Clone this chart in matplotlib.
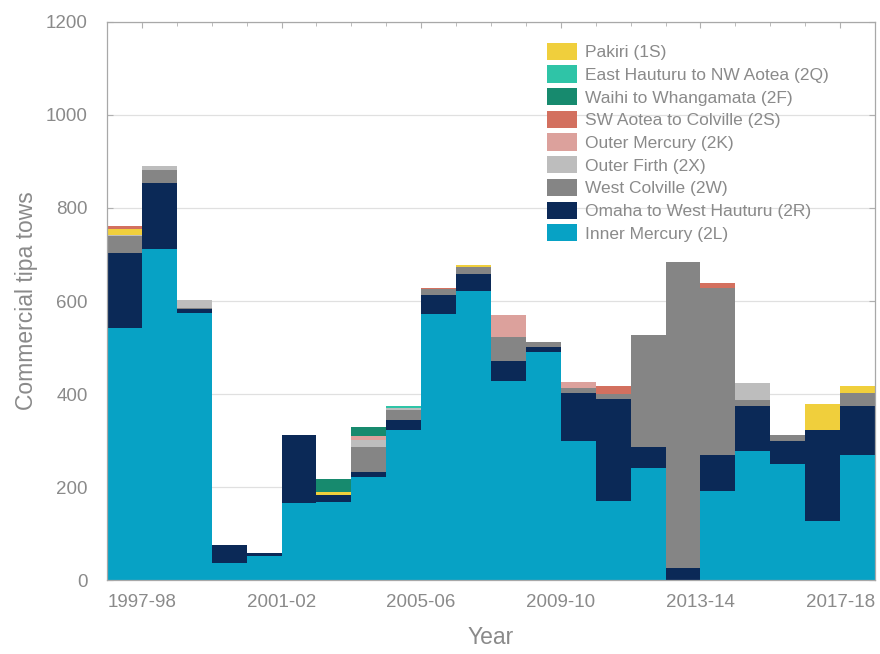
"""
Commercial tipa tows per fishing year, stacked by statistical area.
"""
import numpy as np
import matplotlib
matplotlib.use("Agg")
import matplotlib.pyplot as plt

plt.rcParams['font.family'] = ['Liberation Sans', 'DejaVu Sans']

# Fishing years (one bar each)
years = ['1997-98', '1998-99', '1999-00', '2000-01', '2001-02', '2002-03',
         '2003-04', '2004-05', '2005-06', '2006-07', '2007-08', '2008-09',
         '2009-10', '2010-11', '2011-12', '2012-13', '2013-14', '2014-15',
         '2015-16', '2016-17', '2017-18', '2018-19']

# Tows by area
inner_mercury = [543, 712, 574, 36, 52, 166, 168, 221, 322, 573, 622, 428,
                 490, 300, 169, 241, 0, 192, 278, 249, 127, 268]
omaha = [161, 142, 8, 39, 6, 146, 15, 12, 23, 40, 37, 43,
         12, 103, 220, 46, 25, 77, 96, 49, 196, 106]
west_colville = [36, 28, 4, 0, 0, 0, 0, 54, 20, 12, 15, 51,
                 10, 9, 11, 240, 659, 360, 13, 13, 0, 29]
outer_firth = [3, 9, 16, 0, 0, 0, 0, 14, 5, 0, 0, 0,
               0, 0, 0, 0, 0, 0, 36, 0, 0, 0]
pakiri = [12, 0, 0, 0, 0, 0, 7, 0, 0, 0, 4, 0,
          0, 0, 0, 0, 0, 0, 0, 0, 55, 14]
outer_mercury = [0, 0, 0, 0, 0, 0, 0, 8, 0, 0, 0, 48,
                 0, 14, 0, 0, 0, 0, 0, 0, 0, 0]
sw_aotea = [7, 0, 0, 0, 0, 0, 0, 0, 0, 4, 0, 0,
            0, 0, 18, 0, 0, 9, 0, 0, 0, 0]
waihi = [0, 0, 0, 0, 0, 0, 28, 20, 0, 0, 0, 0,
         0, 0, 0, 0, 0, 0, 0, 0, 0, 0]
east_hauturu = [0, 0, 0, 0, 0, 0, 0, 0, 4, 0, 0, 0,
                0, 0, 0, 0, 0, 0, 0, 0, 0, 0]

# Stack order (bottom to top) as drawn in the figure
series = [
    ('Inner Mercury (2L)', inner_mercury, '#07a2c5'),
    ('Omaha to West Hauturu (2R)', omaha, '#0b2957'),
    ('West Colville (2W)', west_colville, '#858585'),
    ('Outer Firth (2X)', outer_firth, '#bdbdbd'),
    ('Pakiri (1S)', pakiri, '#f0cf3c'),
    ('Outer Mercury (2K)', outer_mercury, '#dca19c'),
    ('SW Aotea to Colville (2S)', sw_aotea, '#d3705f'),
    ('Waihi to Whangamata (2F)', waihi, '#178a6e'),
    ('East Hauturu to NW Aotea (2Q)', east_hauturu, '#2fc4a7'),
]
legend_order = ['Pakiri (1S)', 'East Hauturu to NW Aotea (2Q)',
                'Waihi to Whangamata (2F)', 'SW Aotea to Colville (2S)',
                'Outer Mercury (2K)', 'Outer Firth (2X)', 'West Colville (2W)',
                'Omaha to West Hauturu (2R)', 'Inner Mercury (2L)']

grey = '#8a8a8a'
fig = plt.figure(figsize=(8.8, 6.54), dpi=100)
ax = fig.add_axes([0.1216, 0.1131, 0.8727, 0.8533])

x = np.arange(len(years))
bottom = np.zeros(len(years))
handles = {}
for name, vals, col in series:
    vals = np.array(vals, dtype=float)
    h = ax.bar(x, vals, width=1.0, bottom=bottom, align='edge',
               color=col, edgecolor='none', label=name, zorder=2)
    handles[name] = h
    bottom += vals

ax.set_xlim(0, len(years))
ax.set_ylim(0, 1200)
ax.set_yticks(np.arange(0, 1201, 200))
ax.set_xticks(np.arange(1, len(years), 4))
ax.set_xticklabels(years[0::4])
ax.set_xticks(np.arange(0, len(years) + 1), minor=True)
ax.yaxis.grid(True, color='#e0e0e0', linewidth=0.9, zorder=0)
ax.set_axisbelow(True)

ax.tick_params(axis='both', which='both', direction='in', colors='#b0b0b0',
               labelcolor=grey, labelsize=13.5, top=True, right=True)
ax.tick_params(axis='both', which='major', length=4)
ax.tick_params(axis='x', which='major', pad=10)
ax.tick_params(axis='y', which='major', pad=14)
ax.tick_params(axis='x', which='minor', length=3)
for s in ax.spines.values():
    s.set_color('#a8a8a8')
    s.set_linewidth(0.9)

ax.set_xlabel('Year', fontsize=16.5, color=grey)
ax.set_ylabel('Commercial tipa tows', fontsize=16.5, color=grey)
ax.xaxis.set_label_coords(0.5, -0.082)
ax.yaxis.set_label_coords(-0.09, 0.5)

leg = ax.legend([handles[n] for n in legend_order], legend_order,
                loc='upper left', bbox_to_anchor=(0.573, 0.963),
                frameon=False, fontsize=12.5, handlelength=1.73,
                handleheight=1.15, labelspacing=0.3, handletextpad=0.46,
                borderpad=0, borderaxespad=0)
for t in leg.get_texts():
    t.set_color(grey)

fig.savefig('out.png', dpi=100)
